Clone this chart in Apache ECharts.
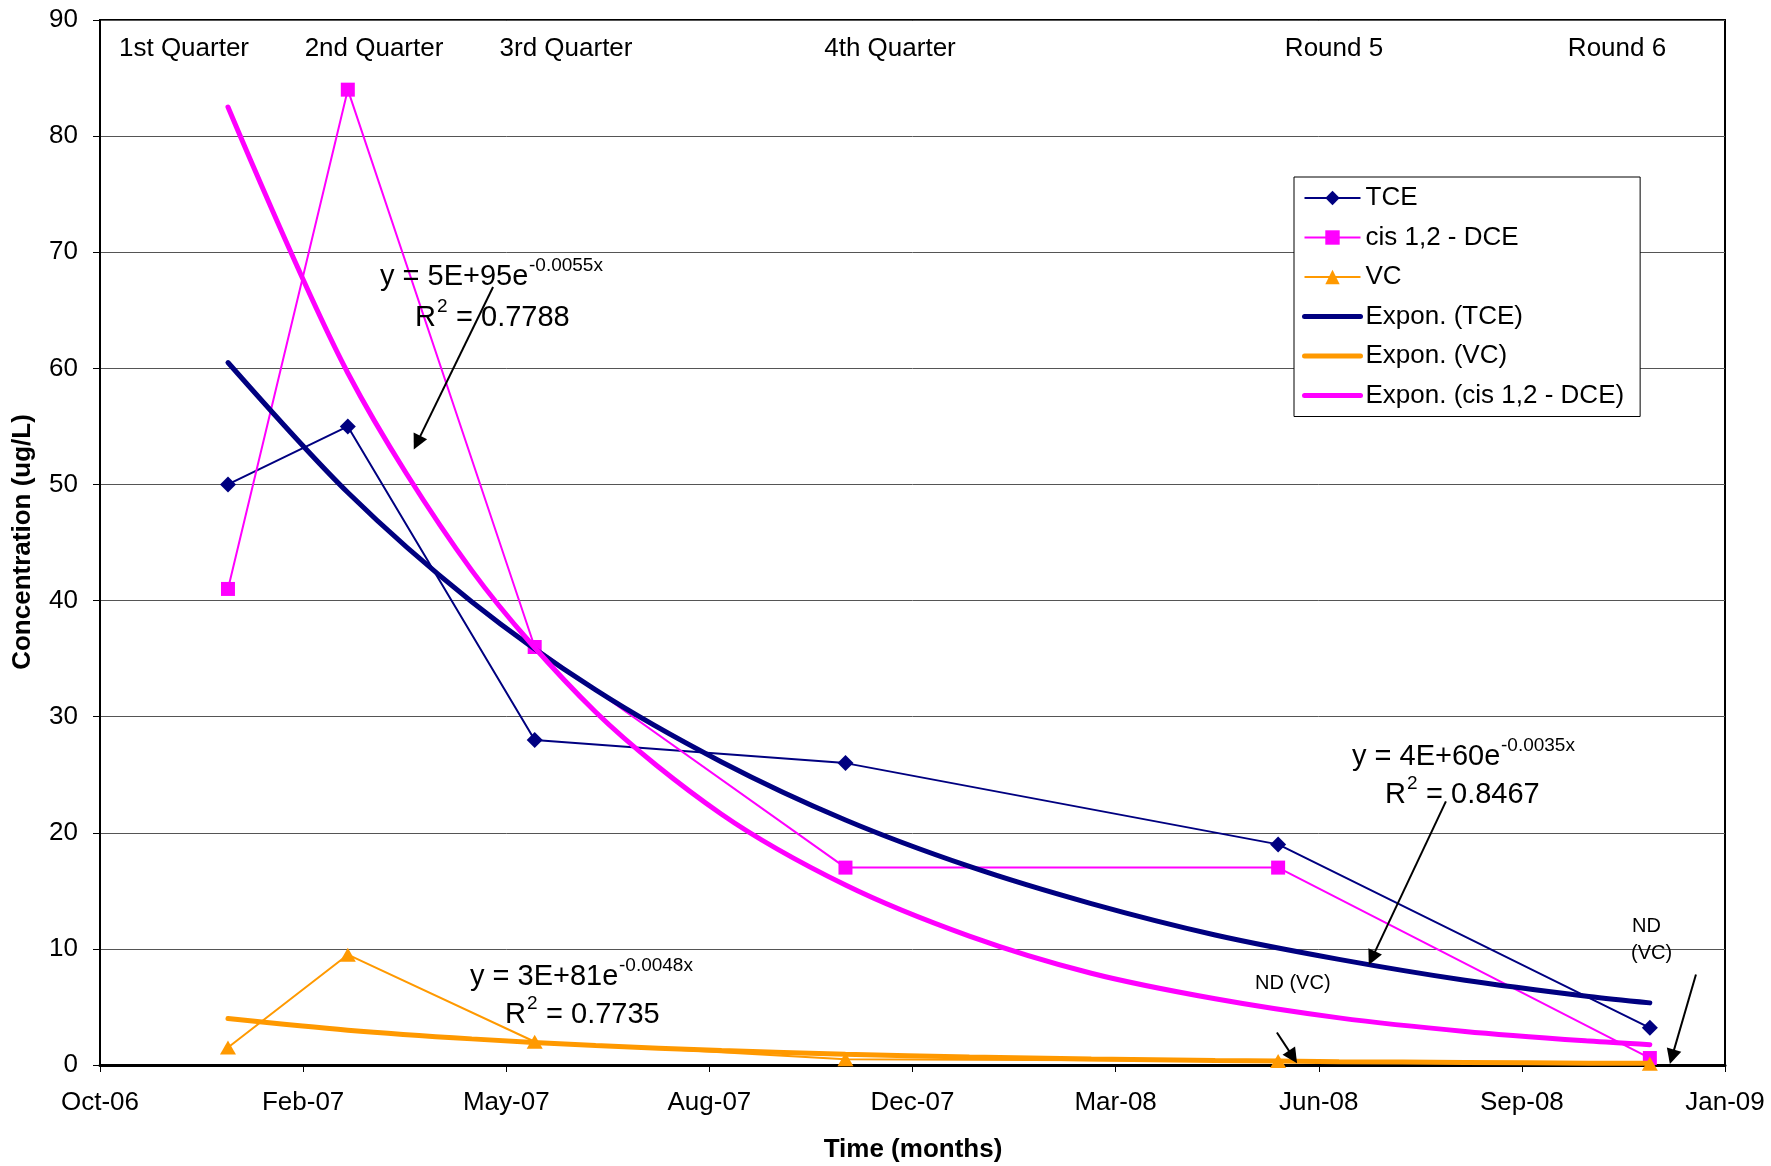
<!DOCTYPE html>
<html>
<head>
<meta charset="utf-8">
<script src="https://cdn.jsdelivr.net/npm/echarts@6/dist/echarts.min.js"></script>
<style>
  html, body { margin: 0; padding: 0; background: #fff; }
  #chart { width: 1771px; height: 1166px; }
</style>
</head>
<body>
<div id="chart"></div>
<script>
// ---------- data ----------
const sampleDates = ['2007-01-01', '2007-03-01', '2007-06-01', '2007-11-01', '2008-06-01', '2008-12-01'];
const tceValues = [50, 55, 28, 26, 19, 3.2];
const dceValues = [41, 84, 36, 17, 17, 0.6];
const vcValues  = [1.5, 9.5, 2, 0.5, 0.35, 0.1];

// trendline curves
const trendDates = ['2007-01-01', '2007-03-01', '2007-05-01', '2007-07-01', '2007-09-01', '2007-11-01',
                    '2008-01-01', '2008-03-01', '2008-05-01', '2008-07-01', '2008-09-01', '2008-11-01', '2008-12-01'];
const tceTrend = [60.5, 49.3, 39.9, 32.3, 26.1, 21.1, 17.1, 13.9, 11.2, 9.1, 7.3, 5.9, 5.35];
const dceTrend = [82.5, 59.6, 42.6, 30.4, 21.6, 15.5, 11.1, 7.9, 5.7, 4.06, 2.89, 2.06, 1.75];
const vcTrend  = [4.0, 3.0, 2.25, 1.68, 1.25, 0.93, 0.69, 0.52, 0.39, 0.29, 0.22, 0.16, 0.14];

const seriesNames = ['TCE', 'cis 1,2 - DCE', 'VC', 'Expon. (TCE)', 'Expon. (VC)', 'Expon. (cis 1,2 - DCE)'];
const roundLabels = ['1st Quarter', '2nd Quarter', '3rd Quarter', '4th Quarter', 'Round 5', 'Round 6'];

// x axis: days counted from the axis start date, ticks every 100 days
const axisStartDate = '2006-10-30';
const axisDays = [0, 800];
const tickDays = 100;
const yRange = [0, 90];
const yStep = 10;

// arrows (data coordinates: [days, ug/L] -> [days, ug/L])
const arrows = [
  [[193.5, 67.0], [156.1, 53.6]],
  [[662.6, 22.7], [626.2, 9.2]],
  [[579.4, 2.8], [587.3, 0.7]],
  [[785.7, 7.8], [773.9, 0.7]]
];

// ---------- helpers ----------
function utc(s) { const p = s.split('-').map(Number); return Date.UTC(p[0], p[1] - 1, p[2]); }
const base = utc(axisStartDate);
function dayOf(s) { return Math.round((utc(s) - base) / 86400000); }
const MONTHS = ['Jan','Feb','Mar','Apr','May','Jun','Jul','Aug','Sep','Oct','Nov','Dec'];
function fmtDay(v) {
  const d = new Date(base + v * 86400000);
  return MONTHS[d.getUTCMonth()] + '-' + String(d.getUTCFullYear() % 100).padStart(2, '0');
}
function pairs(dates, vals) { return dates.map((d, i) => [dayOf(d), vals[i]]); }

const FONT = "'Liberation Sans', Arial, sans-serif";
const NAVY = '#000080', MAGENTA = '#FF00FF', ORANGE = '#FF9900';

const chart = echarts.init(document.getElementById('chart'), null, { renderer: 'canvas' });

function txt(x, y, text, size, opts) {
  opts = opts || {};
  return {
    type: 'text', x: x, y: y, z: 100, rotation: opts.rotation || 0,
    style: {
      text: text, fill: '#000', font: (opts.bold ? 'bold ' : '') + size + 'px ' + FONT,
      align: opts.align || 'left', verticalAlign: 'middle'
    }
  };
}

const graphics = [];
const roundX = [184, 374, 566, 890, 1334, 1617];
roundLabels.forEach((t, i) => graphics.push(txt(roundX[i], 49, t, 26, { align: 'center' })));
// equation for cis-DCE
graphics.push(txt(380, 277, 'y = 5E+95e', 29));
graphics.push(txt(529, 266, '-0.0055x', 19));
graphics.push(txt(415, 318, 'R', 29));
graphics.push(txt(437, 307, '2', 19));
graphics.push(txt(448, 318, ' = 0.7788', 29));
// equation for TCE
graphics.push(txt(1352, 757, 'y = 4E+60e', 29));
graphics.push(txt(1501, 746, '-0.0035x', 19));
graphics.push(txt(1385, 795, 'R', 29));
graphics.push(txt(1407, 784, '2', 19));
graphics.push(txt(1418, 795, ' = 0.8467', 29));
// equation for VC
graphics.push(txt(470, 977, 'y = 3E+81e', 29));
graphics.push(txt(619, 966, '-0.0048x', 19));
graphics.push(txt(505, 1015, 'R', 29));
graphics.push(txt(527, 1004, '2', 19));
graphics.push(txt(538, 1015, ' = 0.7735', 29));
// ND labels
graphics.push(txt(1255, 983, 'ND (VC)', 20));
graphics.push(txt(1632, 926, 'ND', 20));
graphics.push(txt(1631, 953, '(VC)', 20));
// axis titles
graphics.push(txt(23, 542, 'Concentration (ug/L)', 26, { bold: true, align: 'center', rotation: Math.PI / 2 }));
graphics.push(txt(913, 1150, 'Time (months)', 26, { bold: true, align: 'center' }));

const legendData = seriesNames.map((n, i) => i < 3
  ? { name: n, lineStyle: { width: 2 } }
  : { name: n, lineStyle: { width: 5 }, itemStyle: { opacity: 0 } });

const option = {
  animation: false,
  backgroundColor: '#fff',
  textStyle: { fontFamily: FONT },
  grid: { left: 100, right: 46, top: 20, bottom: 101, show: true, borderColor: '#000', borderWidth: 2, backgroundColor: 'transparent' },
  legend: {
    orient: 'vertical', left: 1294, top: 177,
    padding: [6, 16, 6, 8],
    itemWidth: 56, itemHeight: 18, itemGap: 9.5,
    borderColor: '#000', borderWidth: 1, backgroundColor: '#fff',
    textStyle: { fontSize: 26, lineHeight: 30, color: '#000', fontFamily: FONT },
    data: legendData,
    z: 50
  },
  xAxis: {
    type: 'value', min: axisDays[0], max: axisDays[1], interval: tickDays,
    axisLine: { show: true, lineStyle: { color: '#000', width: 3 } },
    axisTick: { show: true, inside: false, length: 7, lineStyle: { color: '#000', width: 1 } },
    axisLabel: { formatter: fmtDay, fontSize: 26, color: '#000', margin: 25, showMinLabel: true, showMaxLabel: true, fontFamily: FONT },
    splitLine: { show: false }
  },
  yAxis: {
    type: 'value', min: yRange[0], max: yRange[1], interval: yStep,
    axisLine: { show: true, lineStyle: { color: '#000', width: 2 } },
    axisTick: { show: true, inside: false, length: 7, lineStyle: { color: '#000', width: 1 } },
    axisLabel: { fontSize: 26, color: '#000', margin: 22, fontFamily: FONT },
    splitLine: { show: true, lineStyle: { color: '#555', width: 1 } }
  },
  series: [
    { name: seriesNames[0], type: 'line', data: pairs(sampleDates, tceValues), color: NAVY,
      lineStyle: { width: 2, color: NAVY }, symbol: 'diamond', symbolSize: [16, 16],
      itemStyle: { color: NAVY }, z: 3 },
    { name: seriesNames[1], type: 'line', data: pairs(sampleDates, dceValues), color: MAGENTA,
      lineStyle: { width: 2, color: MAGENTA }, symbol: 'rect', symbolSize: [14, 14],
      itemStyle: { color: MAGENTA }, z: 3 },
    { name: seriesNames[2], type: 'line', data: pairs(sampleDates, vcValues), color: ORANGE,
      lineStyle: { width: 2, color: ORANGE }, symbol: 'triangle', symbolSize: [16, 14],
      itemStyle: { color: ORANGE }, z: 3 },
    { name: seriesNames[3], type: 'line', data: pairs(trendDates, tceTrend), color: NAVY,
      smooth: 0.3, showSymbol: false, symbol: 'none', lineStyle: { width: 5, color: NAVY, cap: 'round' }, z: 4 },
    { name: seriesNames[4], type: 'line', data: pairs(trendDates, vcTrend), color: ORANGE,
      smooth: 0.3, showSymbol: false, symbol: 'none', lineStyle: { width: 5, color: ORANGE, cap: 'round' }, z: 4 },
    { name: seriesNames[5], type: 'line', data: pairs(trendDates, dceTrend), color: MAGENTA,
      smooth: 0.3, showSymbol: false, symbol: 'none', lineStyle: { width: 5, color: MAGENTA, cap: 'round' }, z: 4 },
    { name: 'arrows', type: 'line', data: [], z: 6,
      markLine: {
        silent: true, animation: false,
        symbol: ['none', 'triangle'], symbolSize: 15,
        lineStyle: { color: '#000', width: 2, type: 'solid' },
        label: { show: false },
        emphasis: { disabled: true },
        data: arrows.map(a => [{ coord: a[0] }, { coord: a[1] }])
      } }
  ],
  graphic: graphics
};
chart.setOption(option);
</script>
</body>
</html>
